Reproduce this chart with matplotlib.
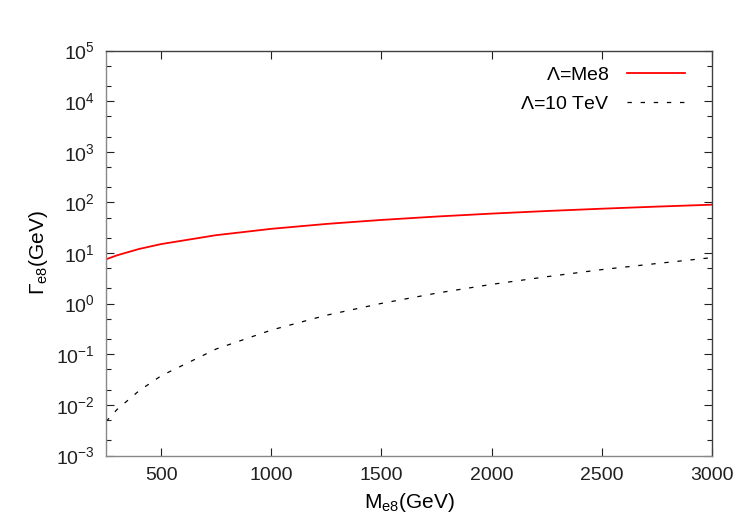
import numpy as np
import matplotlib
matplotlib.use("Agg")
import matplotlib.pyplot as plt
from matplotlib.ticker import LogLocator, NullFormatter, FixedLocator

plt.rcParams['font.family'] = ['Liberation Sans', 'DejaVu Sans']
plt.rcParams['mathtext.fontset'] = 'custom'
plt.rcParams['mathtext.rm'] = 'Liberation Sans'
plt.rcParams['mathtext.it'] = 'Liberation Sans:italic'

# widths of the e8 state versus its mass
mass = [250, 300, 400, 500, 750, 1000, 1250, 1500, 1750, 2000, 2250, 2500, 2750, 3000]
width_me8 = [7.5, 9.0, 12.0, 15.0, 22.5, 30.0, 37.5, 45.0, 52.5, 60.0, 67.5, 75.0, 82.5, 90.0]
width_10tev = [0.0047, 0.0081, 0.019, 0.0375, 0.127, 0.30, 0.59, 1.01, 1.61, 2.4, 3.4, 4.7, 6.2, 8.1]
labels = [r'$\Lambda$=Me8', r'$\Lambda$=10 TeV']
xticks = [500, 1000, 1500, 2000, 2500, 3000]

fig = plt.figure(figsize=(7.43, 5.12), dpi=100)
ax = fig.add_axes([106 / 743, 1 - 455.5 / 512, 606 / 743, 405 / 512])

ax.plot(mass, width_me8, color='#ff0000', lw=1.3, label=labels[0])
ax.plot(mass, width_10tev, color='black', lw=0.9, dashes=(3.5, 7), label=labels[1])

ax.set_yscale('log')
ax.set_xlim(250, 3000)
ax.set_ylim(1e-3, 1e5)
ax.xaxis.set_major_locator(FixedLocator(xticks))
ax.yaxis.set_major_locator(LogLocator(base=10, numticks=20))
ax.yaxis.set_minor_locator(LogLocator(base=10, subs=(2.0, 5.0), numticks=20))
ax.yaxis.set_minor_formatter(NullFormatter())

ax.tick_params(which='both', direction='in', top=True, right=True, labelsize=14, colors='#202020')
ax.tick_params(which='major', length=6, width=0.8, pad=8)
ax.tick_params(which='minor', length=3.5, width=0.8)
for side in ['left', 'bottom']:
    ax.spines[side].set_color('#888888')
for side in ['top', 'right']:
    ax.spines[side].set_color('#404040')
for sp in ax.spines.values():
    sp.set_linewidth(1.0)

ax.set_xlabel(r'M$_{\rm e8}$(GeV)', fontsize=15, labelpad=5)
ax.set_ylabel(r'$\Gamma_{\rm e8}$(GeV)', fontsize=15, labelpad=4)

ax.legend(loc='upper right', bbox_to_anchor=(0.985, 1.005), frameon=False, markerfirst=False,
          fontsize=14, handlelength=3.0, labelspacing=0.6, handletextpad=0.9)

fig.savefig('out.png', dpi=100)
